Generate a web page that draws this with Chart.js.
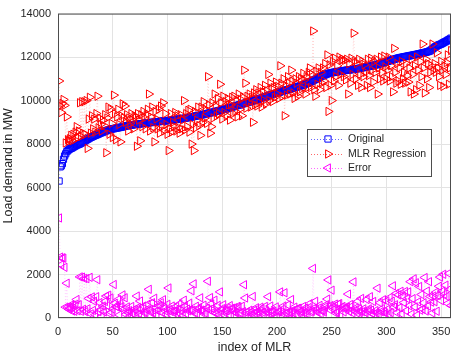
<!DOCTYPE html>
<html>
<head>
<meta charset="utf-8">
<script src="https://cdn.jsdelivr.net/npm/chart.js@4.4.1/dist/chart.umd.min.js"></script>
<style>
  body { margin: 0; background: #fff; }
  #wrap { width: 461px; height: 357px; }
</style>
</head>
<body>
<div id="wrap"><canvas id="chart" width="461" height="357"></canvas></div>
<script>
const seriesNames = ['Original', 'MLR Regression', 'Error'];
const xTicks = [0, 50, 100, 150, 200, 250, 300, 350];
const yTicks = [0, 2000, 4000, 6000, 8000, 10000, 12000, 14000];

// measured load (sorted)
const original = [
  6300, 6950, 7000, 7100, 7300, 7450, 7550, 7650, 7700, 7750,
  7780, 7800, 7830, 7860, 7890, 7920, 7950, 7970, 7990, 8010,
  8040, 8070, 8100, 8130, 8160, 8190, 8220, 8250, 8280, 8310,
  8330, 8350, 8380, 8400, 8420, 8440, 8460, 8490, 8510, 8530,
  8550, 8570, 8590, 8610, 8630, 8650, 8660, 8680, 8690, 8700,
  8710, 8720, 8730, 8740, 8750, 8760, 8770, 8780, 8790, 8810,
  8820, 8830, 8840, 8850, 8860, 8860, 8870, 8880, 8890, 8900,
  8900, 8910, 8920, 8920, 8930, 8940, 8940, 8950, 8960, 8960,
  8970, 8970, 8980, 8990, 8990, 9000, 9000, 9010, 9020, 9020,
  9030, 9030, 9040, 9050, 9050, 9060, 9060, 9070, 9070, 9080,
  9080, 9090, 9100, 9100, 9110, 9120, 9120, 9130, 9140, 9150,
  9150, 9160, 9170, 9180, 9180, 9190, 9200, 9210, 9220, 9230,
  9240, 9250, 9260, 9270, 9280, 9290, 9300, 9310, 9320, 9330,
  9340, 9350, 9360, 9380, 9390, 9400, 9410, 9420, 9440, 9450,
  9460, 9470, 9480, 9500, 9510, 9520, 9540, 9550, 9560, 9580,
  9590, 9600, 9620, 9630, 9640, 9660, 9670, 9690, 9700, 9720,
  9730, 9750, 9760, 9780, 9790, 9810, 9820, 9840, 9850, 9870,
  9880, 9900, 9910, 9930, 9940, 9960, 9970, 9990, 10000, 10020,
  10030, 10050, 10070, 10080, 10100, 10120, 10130, 10150, 10170, 10180,
  10200, 10220, 10240, 10250, 10270, 10290, 10300, 10320, 10340, 10350,
  10370, 10380, 10400, 10420, 10430, 10450, 10460, 10480, 10490, 10500,
  10520, 10530, 10550, 10560, 10580, 10600, 10610, 10630, 10640, 10650,
  10670, 10690, 10700, 10720, 10740, 10760, 10780, 10800, 10820, 10840,
  10870, 10890, 10920, 10950, 10970, 11000, 11020, 11050, 11080, 11100,
  11130, 11150, 11170, 11190, 11210, 11230, 11250, 11260, 11270, 11280,
  11290, 11300, 11310, 11320, 11330, 11340, 11340, 11350, 11360, 11370,
  11380, 11380, 11390, 11400, 11400, 11410, 11420, 11420, 11430, 11440,
  11450, 11460, 11460, 11470, 11480, 11490, 11500, 11510, 11520, 11530,
  11540, 11550, 11560, 11570, 11580, 11590, 11600, 11610, 11630, 11640,
  11650, 11670, 11680, 11700, 11710, 11730, 11740, 11760, 11770, 11790,
  11800, 11820, 11840, 11850, 11870, 11880, 11900, 11910, 11930, 11940,
  11960, 11970, 11980, 11990, 12000, 12010, 12020, 12030, 12040, 12050,
  12060, 12070, 12080, 12090, 12100, 12110, 12120, 12130, 12140, 12150,
  12160, 12180, 12190, 12200, 12210, 12220, 12240, 12250, 12270, 12290,
  12330, 12370, 12410, 12450, 12480, 12510, 12540, 12560, 12580, 12600,
  12630, 12660, 12690, 12710, 12740, 12770, 12800, 12830, 12870
];

// regression output
const mlrRegression = [
  10900, 9750, 9450, 9870, 10050, 9780, 8050, 9250, 8200, 8150,
  8250, 8400, 8150, 8450, 8200, 8550, 8800, 8300, 8600, 9900,
  8350, 9950, 8500, 9950, 8450, 10000, 7800, 9150, 10150, 8500,
  9300, 8700, 9150, 8550, 9400, 10200, 8750, 9200, 8900, 8600,
  9100, 8850, 9350, 7600, 9200, 9700, 8450, 9600, 8950, 8300,
  10250, 9400, 8200, 9250, 9600, 8900, 8100, 9300, 9850, 9200,
  9750, 9000, 9350, 8600, 9200, 8950, 9400, 9100, 8700, 9300,
  9250, 7900, 9400, 9100, 8150, 9350, 8800, 9500, 9200, 8700,
  9350, 9600, 10300, 8600, 9250, 9700, 8750, 8100, 9500, 9150,
  8700, 9600, 8500, 9750, 8800, 9900, 8600, 9400, 8900, 8450,
  7700, 8700, 9400, 8550, 9000, 8800, 9450, 8600, 9300, 8750,
  8500, 9350, 8700, 9100, 10000, 8650, 9400, 8800, 9550, 8550,
  9600, 8000, 8900, 7700, 9500, 8750, 9100, 9700, 8850, 8400,
  9700, 9000, 9950, 9200, 9600, 8950, 11100, 9800, 8500, 8800,
  9900, 9200, 10300, 9750, 9300, 10100, 9400, 10750, 9900, 9150,
  10200, 9450, 9950, 9300, 10100, 9800, 9100, 9800, 10150, 9400,
  10200, 9500, 10000, 9250, 10300, 9600, 10050, 9300, 10150, 11400,
  10800, 9650, 10200, 9900, 10300, 9700, 10150, 9000, 10350, 9800,
  10500, 9750, 10350, 9900, 10600, 9700, 10400, 10000, 10700, 9850,
  10450, 11200, 10000, 10800, 10550, 9950, 10600, 10150, 10850, 10300,
  10650, 10100, 11600, 10800, 10200, 11000, 9300, 10700, 10250, 11100,
  10800, 10300, 11400, 10900, 10350, 10100, 11000, 10800, 10200, 11100,
  10400, 11000, 10550, 11250, 10950, 10300, 11100, 10600, 11300, 11500,
  10600, 11200, 13200, 10500, 10200, 11350, 10750, 11500, 10500, 11300,
  10800, 11500, 10900, 11700, 10600, 12100, 9500, 11650, 10700, 10000,
  11800, 10900, 11950, 11100, 11600, 10700, 12000, 11200, 11850, 11900,
  11100, 11850, 10950, 11900, 10300, 11700, 10800, 11950, 11200, 13100,
  11800, 11000, 11700, 10700, 11900, 11200, 10600, 11800, 11100, 11650,
  11300, 10700, 11900, 11150, 10600, 11950, 11400, 10850, 11800, 11300,
  11900, 10300, 11500, 11000, 12000, 11300, 10900, 12050, 11550, 11000,
  11400, 12000, 10900, 11600, 11100, 10400, 12400, 11300, 10800, 11700,
  10900, 11500, 10750, 11800, 11000, 11300, 10800, 11700, 11150, 10850,
  11500, 10400, 11900, 11200, 10300, 11600, 10500, 12000, 11400, 10700,
  11800, 11100, 12600, 11500, 10350, 11900, 11000, 11700, 10600, 11300,
  11600, 12600, 11400, 11700, 11300, 12200, 11500, 11100, 10700, 11800,
  11400, 10650, 11600, 11200, 11750, 12100, 10750, 11500, 12300
];

// absolute error
const errorValues = [
  4600, 2800, 2450, 2770, 2750, 2330, 500, 1600, 500, 400,
  470, 600, 320, 590, 310, 630, 850, 330, 610, 1890,
  310, 1880, 400, 1820, 290, 1810, 420, 900, 1870, 190,
  970, 350, 770, 150, 980, 1760, 290, 710, 390, 70,
  550, 280, 760, 1010, 570, 1050, 210, 920, 260, 400,
  1540, 680, 530, 510, 850, 140, 670, 520, 1060, 390,
  930, 170, 510, 250, 340, 90, 530, 220, 190, 400,
  350, 1010, 480, 180, 780, 410, 140, 550, 240, 260,
  380, 630, 1320, 390, 260, 700, 250, 910, 480, 130,
  330, 570, 540, 700, 250, 840, 460, 330, 170, 630,
  1380, 390, 300, 550, 110, 320, 330, 530, 160, 400,
  650, 190, 470, 80, 820, 540, 200, 410, 330, 680,
  360, 1250, 360, 1570, 220, 540, 200, 390, 470, 930,
  360, 350, 590, 180, 210, 450, 1690, 380, 940, 650,
  440, 270, 820, 250, 210, 580, 140, 1200, 340, 430,
  610, 150, 330, 330, 460, 140, 570, 110, 450, 320,
  470, 250, 240, 530, 510, 210, 230, 540, 300, 1530,
  920, 250, 290, 30, 360, 260, 180, 990, 350, 220,
  470, 300, 280, 180, 500, 420, 270, 150, 530, 330,
  250, 980, 240, 550, 280, 340, 300, 170, 510, 50,
  280, 280, 1200, 380, 230, 550, 1160, 220, 240, 600,
  280, 230, 850, 340, 230, 500, 390, 170, 440, 450,
  270, 310, 150, 530, 210, 460, 320, 200, 480, 660,
  270, 310, 2280, 450, 770, 350, 270, 450, 580, 200,
  330, 350, 270, 510, 610, 870, 1750, 390, 570, 1280,
  510, 400, 640, 220, 270, 640, 660, 150, 490, 530,
  280, 470, 440, 500, 1100, 290, 620, 530, 230, 1660,
  350, 460, 240, 770, 420, 290, 900, 290, 420, 120,
  240, 850, 340, 420, 980, 360, 200, 760, 170, 340,
  250, 1370, 180, 700, 290, 430, 840, 290, 220, 790,
  400, 180, 940, 250, 770, 1480, 500, 610, 1130, 240,
  1060, 470, 1230, 190, 1000, 710, 1220, 330, 890, 1200,
  560, 1670, 180, 890, 1800, 510, 1620, 130, 740, 1450,
  360, 1080, 410, 700, 1860, 320, 1240, 550, 1670, 990,
  730, 230, 1010, 750, 1180, 310, 1040, 1460, 1880, 800,
  1230, 2010, 1090, 1510, 990, 670, 2050, 1330, 570
];

const idx = original.map((_, i) => i + 1);
const toPoints = arr => arr.map((v, i) => ({ x: idx[i], y: v }));

const fontFamily = '"Liberation Sans", Arial, Helvetica, sans-serif';
const textColor = '#262626';
const gridColor = '#e3e3e3';

const styles = [
  { color: '#0000ff', line: 'rgba(0,0,255,0.5)', pointStyle: 'rect', rotation: 0, radius: 4.4 },
  { color: '#ff0000', line: 'rgba(255,0,0,0.35)', pointStyle: 'triangle', rotation: 90, radius: 4.8 },
  { color: '#ff00ff', line: 'rgba(255,0,255,0.35)', pointStyle: 'triangle', rotation: -90, radius: 4.8 }
];

function makeSet(i, values, order) {
  const s = styles[i];
  return {
    label: seriesNames[i],
    data: toPoints(values),
    order: order,
    showLine: true,
    borderColor: s.line,
    borderWidth: 0.5,
    borderDash: [1, 2],
    backgroundColor: 'rgba(0,0,0,0)',
    pointStyle: s.pointStyle,
    pointRotation: s.rotation,
    pointRadius: s.radius,
    pointBorderWidth: 1,
    pointBorderColor: s.color,
    pointBackgroundColor: 'rgba(0,0,0,0)',
    tension: 0
  };
}

// box around axes + matlab-like legend
const boxAndLegend = {
  id: 'boxAndLegend',
  afterDraw(chart) {
    const ctx = chart.ctx;
    const a = chart.chartArea;
    ctx.save();
    ctx.strokeStyle = '#4d4d4d';
    ctx.lineWidth = 1;
    ctx.strokeRect(a.left + 0.5, a.top + 0.5, a.right - a.left - 1, a.bottom - a.top - 1);

    // legend
    const lx = 307, ly = 129, lw = 124, lh = 47;
    ctx.fillStyle = '#fff';
    ctx.fillRect(lx, ly, lw, lh);
    ctx.strokeStyle = '#4d4d4d';
    ctx.strokeRect(lx + 0.5, ly + 0.5, lw, lh);
    ctx.font = '10.5px ' + fontFamily;
    ctx.textBaseline = 'middle';
    const rows = [139, 154, 168];
    rows.forEach((ry, i) => {
      const s = styles[i];
      ctx.strokeStyle = s.color;
      ctx.lineWidth = 0.6;
      ctx.setLineDash([1, 2]);
      ctx.beginPath();
      ctx.moveTo(311, ry + 0.5);
      ctx.lineTo(343, ry + 0.5);
      ctx.stroke();
      ctx.setLineDash([]);
      ctx.lineWidth = 1;
      ctx.fillStyle = 'rgba(0,0,0,0)';
      Chart.helpers.drawPoint(ctx, {
        pointStyle: s.pointStyle, rotation: s.rotation,
        radius: s.radius, borderWidth: 1
      }, 328, ry);
      ctx.fillStyle = textColor;
      ctx.fillText(seriesNames[i], 348, ry + 0.5);
    });
    ctx.restore();
  }
};

new Chart(document.getElementById('chart'), {
  type: 'line',
  data: {
    datasets: [
      makeSet(0, original, 3),
      makeSet(1, mlrRegression, 2),
      makeSet(2, errorValues, 1)
    ]
  },
  options: {
    responsive: false,
    devicePixelRatio: 1,
    animation: false,
    layout: { padding: { left: 0, top: 8, right: 10, bottom: 0 } },
    plugins: {
      legend: { display: false },
      tooltip: { enabled: false }
    },
    scales: {
      x: {
        type: 'linear',
        min: 0,
        max: 359,
        afterBuildTicks: s => { s.ticks = xTicks.map(v => ({ value: v })); },
        afterFit: s => { s.height = 39; },
        grid: { color: gridColor, drawTicks: false },
        border: { display: false },
        ticks: {
          padding: 7, color: textColor, maxRotation: 0,
          font: { size: 11, family: fontFamily },
          callback: v => String(v)
        },
        title: {
          display: true, text: 'index of MLR', color: textColor,
          font: { size: 12.5, family: fontFamily }, padding: { top: 0, bottom: 2 }
        }
      },
      y: {
        type: 'linear',
        min: 0,
        max: 14000,
        afterBuildTicks: s => { s.ticks = yTicks.map(v => ({ value: v })); },
        afterFit: s => { s.width = 58; },
        grid: { color: gridColor, drawTicks: false },
        border: { display: false },
        ticks: {
          padding: 7, color: textColor,
          font: { size: 11, family: fontFamily },
          callback: v => String(v)
        },
        title: {
          display: true, text: 'Load demand in MW', color: textColor,
          font: { size: 12.5, family: fontFamily }, padding: { top: 1.5, bottom: 0 }
        }
      }
    }
  },
  plugins: [boxAndLegend]
});
</script>
</body>
</html>
